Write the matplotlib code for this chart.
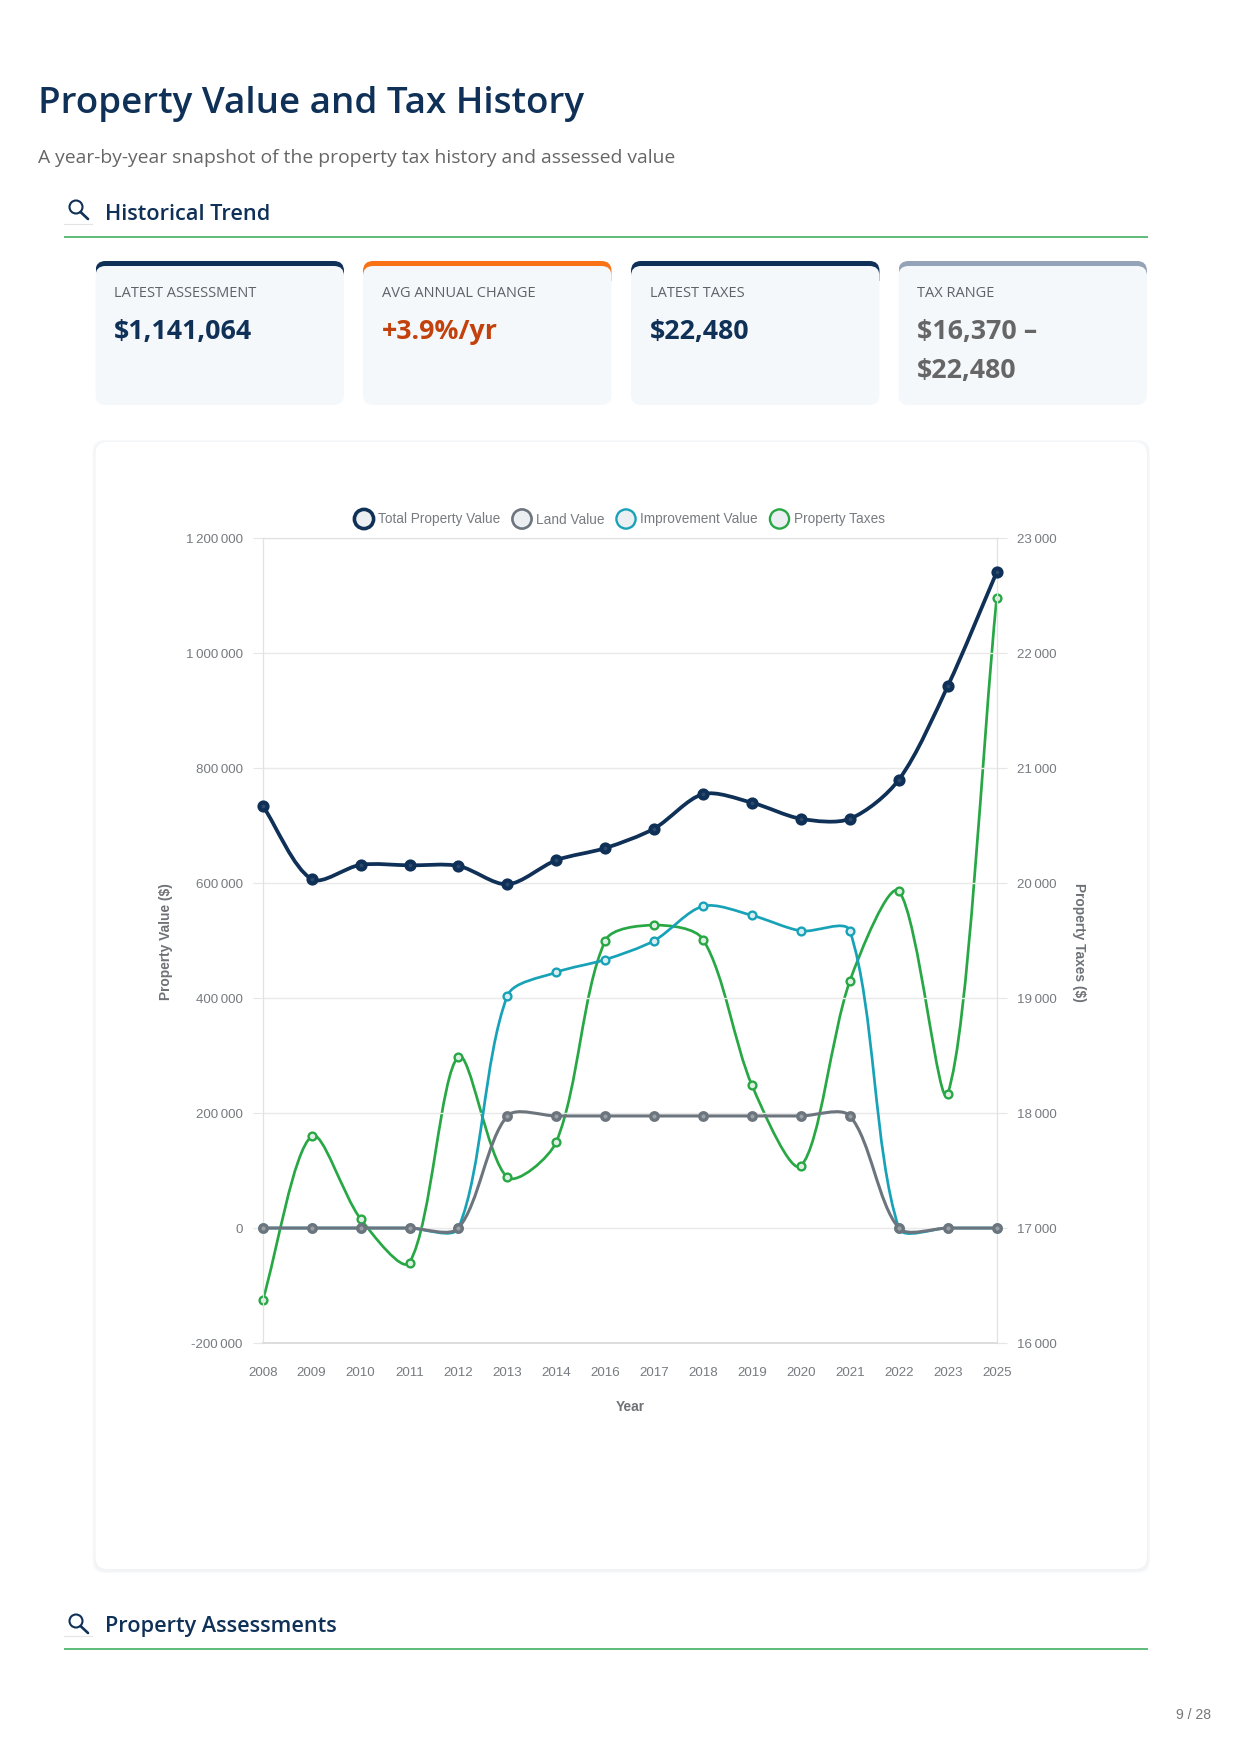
import matplotlib
matplotlib.use("Agg")
import matplotlib.pyplot as plt
from matplotlib.patches import Circle, FancyBboxPatch, PathPatch, Rectangle
from matplotlib.path import Path

W, H = 1242, 1754
NAVY = "#0f3057"
GREY_TXT = "#666666"

# Данные графика
years = ["2008", "2009", "2010", "2011", "2012", "2013", "2014", "2016",
         "2017", "2018", "2019", "2020", "2021", "2022", "2023", "2025"]
total_value = [735000, 607000, 632000, 631000, 630000, 598000, 640000, 661000,
               695000, 755000, 740000, 712000, 712000, 780000, 943000, 1141064]
land_value = [0, 0, 0, 0, 0, 195000, 195000, 195000,
              195000, 195000, 195000, 195000, 195000, 0, 0, 0]
improvement_value = [0, 0, 0, 0, 0, 404000, 445000, 467000,
                     500000, 560000, 544000, 517000, 517000, 0, 0, 0]
property_taxes = [16370, 17800, 17080, 16700, 18490, 17440, 17750, 19500,
                  19635, 19510, 18240, 17540, 19150, 19930, 18170, 22480]

series_names = ["Total Property Value", "Land Value", "Improvement Value", "Property Taxes"]
series_colors = ["#0f3057", "#6c757d", "#17a2b8", "#28a745"]

left_ticks = [-200000, 0, 200000, 400000, 600000, 800000, 1000000, 1200000]
right_ticks = [16000, 17000, 18000, 19000, 20000, 21000, 22000, 23000]

cards = [
    ("LATEST ASSESSMENT", ["$1,141,064"], NAVY, NAVY),
    ("AVG ANNUAL CHANGE", ["+3.9%/yr"], "#c2410c", "#f97316"),
    ("LATEST TAXES", ["$22,480"], NAVY, NAVY),
    ("TAX RANGE", ["$16,370 –", "$22,480"], "#666666", "#94a3b8"),
]


def px(v):
    return v * 0.72


def spaced(v):
    return f"{v:,}".replace(",", "\u2009")


fig = plt.figure(figsize=(W / 100, H / 100), dpi=100, facecolor="white")
page = fig.add_axes([0, 0, 1, 1], zorder=0)
page.set_xlim(0, W)
page.set_ylim(H, 0)
page.axis("off")

UI = ["Open Sans", "DejaVu Sans"]
CHART = ["Liberation Sans", "DejaVu Sans"]

page.text(38, 113.5, "Property Value and Tax History", fontsize=px(36.8), fontweight=600,
          color=NAVY, family=UI)
page.text(38, 163, "A year-by-year snapshot of the property tax history and assessed value",
          fontsize=px(19.3), color=GREY_TXT, family=UI)


def section(title, cy, line_y):
    # значок лупы и заголовок раздела
    page.add_patch(Circle((76, cy - 2), 6.5, fill=False, ec=NAVY, lw=1.5))
    page.plot([80.5, 88], [cy + 3, cy + 10], color=NAVY, lw=1.9, solid_capstyle="round")
    page.plot([64, 92], [line_y - 13, line_y - 13], color="#e4e4e4", lw=0.8)
    page.text(105, line_y - 17, title, fontsize=px(21.8), fontweight=600, color=NAVY, family=UI)
    page.plot([64, 1148], [line_y, line_y], color="#33a853", lw=1.1, solid_capstyle="butt")


section("Historical Trend", 209, 237)
section("Property Assessments", 1623, 1649)

# Карточки
card_lefts = [95.5, 363, 631, 898.5]
card_w = 248.5
card_top, card_bot = 261, 405
for x0, (label, values, val_col, bar_col) in zip(card_lefts, cards):
    bar = FancyBboxPatch((x0 + 10, card_top + 10), card_w - 20, card_bot - card_top - 20,
                         boxstyle="round,pad=10,rounding_size=10", fc=bar_col, ec="none")
    page.add_patch(bar)
    bar.set_clip_path(Rectangle((x0, card_top), card_w, 20, transform=page.transData))
    body = FancyBboxPatch((x0 + 10, card_top + 15), card_w - 20, card_bot - card_top - 25,
                          boxstyle="round,pad=10,rounding_size=10", fc="#f5f8fa", ec="none")
    page.add_patch(body)
    page.text(x0 + 18.5, 297, label, fontsize=px(14.6), color="#5f6368", family=UI, fontweight=500)
    for i, v in enumerate(values):
        page.text(x0 + 18.5, 339 + i * 39, v, fontsize=px(26.8), fontweight="bold",
                  color=val_col, family=UI)

# Карточка графика
for grow, col in [(3, "#f8f9fa"), (1.5, "#f2f3f5")]:
    page.add_patch(FancyBboxPatch((95.5 + 12 - grow, 442 + 12 - grow + 1), 1051.5 - 24 + 2 * grow,
                                  1127 - 24 + 2 * grow,
                                  boxstyle="round,pad=12,rounding_size=12", fc=col, ec="none"))
page.add_patch(FancyBboxPatch((95.5 + 12, 442 + 12), 1051.5 - 24, 1127 - 24,
                              boxstyle="round,pad=12,rounding_size=12", fc="white", ec="none"))

# Легенда
legend_x = [364, 522, 626, 779.5]
text_x = [378, 536, 640.5, 794]
for lx, tx, name, col, lw in zip(legend_x, text_x, series_names, series_colors, [2.6, 1.9, 1.7, 1.7]):
    page.add_patch(Circle((lx, 519), 9.6, fc="#eceff1", ec=col, lw=lw))
    page.text(tx, 523.5, name, fontsize=px(13.6), color="#777b80", family=CHART, va="baseline")

page.text(1211, 1715, "9 / 28", fontsize=px(14), color="#777777", family=CHART, ha="right", va="center")

# Оси
ax_l, ax_r, ax_t, ax_b = 262.7, 996.7, 538.3, 1343
rect = [ax_l / W, 1 - ax_b / H, (ax_r - ax_l) / W, (ax_b - ax_t) / H]
ax = fig.add_axes(rect, zorder=3)
ax2 = ax.twinx()
ax2.set_zorder(2)
ax.set_zorder(3)
ax.patch.set_visible(False)

xs = list(range(len(years)))
ax.set_xlim(0, len(years) - 1)
ax.set_ylim(-200000, 1200000)
ax2.set_ylim(16000, 23000)
ax.set_xticks(xs, years)
ax.set_yticks(left_ticks, [spaced(v) for v in left_ticks])
ax2.set_yticks(right_ticks, [spaced(v) for v in right_ticks])

ax.grid(axis="y", color="#e9e9e9", lw=1.0)
ax.set_axisbelow(True)
for a in (ax, ax2):
    for s in a.spines.values():
        s.set_color("#e0e2e4")
        s.set_linewidth(0.8)
    a.spines["bottom"].set_linewidth(1.4)
    a.spines["bottom"].set_color("#dddddd")
ax.tick_params(axis="y", length=px(10), color="#e6e6e6", labelsize=px(13.4), labelcolor="#777b80", pad=px(10),
               width=0.8)
ax2.tick_params(axis="y", length=px(10), color="#e6e6e6", labelsize=px(13.4), labelcolor="#777b80", pad=px(10),
                width=0.8)
ax.tick_params(axis="x", length=0, labelsize=px(13.4), labelcolor="#777b80", pad=px(24.5))
for lab in ax.get_xticklabels() + ax.get_yticklabels() + ax2.get_yticklabels():
    lab.set_family(CHART)


def spline_path(x, y, sx, sy, t=0.3):
    # кривая Безье как в Chart.js, расстояния считаем в пикселях
    pts = list(zip(x, y))
    verts = [pts[0]]
    codes = [Path.MOVETO]
    n = len(pts)

    def ctrl(i):
        x0, y0 = pts[max(i - 1, 0)]
        x1, y1 = pts[i]
        x2, y2 = pts[min(i + 1, n - 1)]
        d01 = (((x1 - x0) * sx) ** 2 + ((y1 - y0) * sy) ** 2) ** 0.5
        d12 = (((x2 - x1) * sx) ** 2 + ((y2 - y1) * sy) ** 2) ** 0.5
        s01 = d01 / (d01 + d12) if d01 + d12 else 0
        s12 = d12 / (d01 + d12) if d01 + d12 else 0
        prev_c = (x1 - t * s01 * (x2 - x0), y1 - t * s01 * (y2 - y0))
        next_c = (x1 + t * s12 * (x2 - x0), y1 + t * s12 * (y2 - y0))
        return prev_c, next_c

    for i in range(n - 1):
        verts += [ctrl(i)[1], ctrl(i + 1)[0], pts[i + 1]]
        codes += [Path.CURVE4, Path.CURVE4, Path.CURVE4]
    return Path(verts, codes)


def draw(a, values, color, lw, ms, mew, mfc, z):
    ymin, ymax = a.get_ylim()
    sx = (ax_r - ax_l) / (len(xs) - 1)
    sy = (ax_b - ax_t) / (ymax - ymin)
    a.add_patch(PathPatch(spline_path(xs, values, sx, sy), fill=False, ec=color, lw=lw,
                          zorder=z, clip_on=False, capstyle="round"))
    a.plot(xs, values, ls="none", marker="o", ms=ms, mfc=mfc, mec=color, mew=mew,
           zorder=z + 0.1, clip_on=False)


draw(ax2, property_taxes, series_colors[3], 1.95, px(7.8), 1.7, "#dff0e3", 2)
draw(ax, improvement_value, series_colors[2], 1.95, px(7.8), 1.7, "#d8eef2", 2)
draw(ax, land_value, series_colors[1], 2.2, px(7.5), 2.4, "#9aa1a7", 3)
draw(ax, total_value, series_colors[0], 2.7, px(8), 3.0, "#2d4a6d", 4)

# Подписи осей
page.text(166, 942, "Property Value ($)", rotation=90, ha="center", va="center",
          fontsize=px(13.8), fontweight="bold", color="#6e7276", family=CHART)
page.text(1078.5, 942, "Property Taxes ($)", rotation=-90, ha="center", va="center",
          fontsize=px(13.8), fontweight="bold", color="#6e7276", family=CHART)
page.text(630.5, 1407, "Year", ha="center", va="center",
          fontsize=px(13.8), fontweight="bold", color="#6e7276", family=CHART)

fig.savefig("out.png", dpi=100)
